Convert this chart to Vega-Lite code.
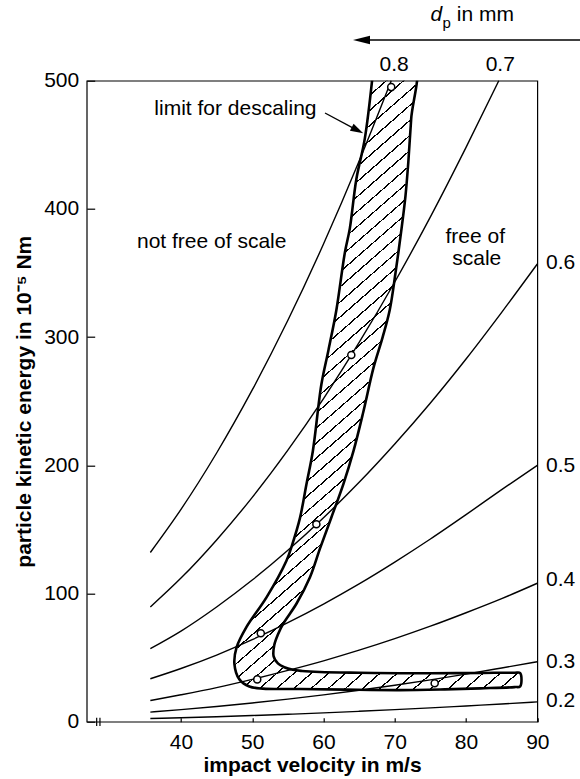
{
  "$schema": "https://vega.github.io/schema/vega-lite/v6.json",
  "width": 450.6,
  "height": 641,
  "autosize": {"type": "none"},
  "padding": {"left": 86.7, "top": 80.7, "right": 42.7, "bottom": 57.3},
  "config": {
    "view": {"stroke": "#000", "strokeWidth": 1.2},
    "font": "Liberation Sans",
    "text": {"font": "Liberation Sans", "fontSize": 21, "color": "#000"}
  },
  "datasets": {
    "curves": [
      {"d": "0.8", "v": 35.7, "E": 132}, {"d": "0.8", "v": 40, "E": 165.6}, {"d": "0.8", "v": 45, "E": 209.6}, {"d": "0.8", "v": 50, "E": 258.8}, {"d": "0.8", "v": 55, "E": 313.1}, {"d": "0.8", "v": 60, "E": 372.6}, {"d": "0.8", "v": 65, "E": 437.3}, {"d": "0.8", "v": 69.5, "E": 500},
      {"d": "0.7", "v": 35.7, "E": 89.5}, {"d": "0.7", "v": 40, "E": 112}, {"d": "0.7", "v": 45, "E": 141.8}, {"d": "0.7", "v": 50, "E": 175}, {"d": "0.7", "v": 55, "E": 211.8}, {"d": "0.7", "v": 60, "E": 252}, {"d": "0.7", "v": 65, "E": 295.8}, {"d": "0.7", "v": 70, "E": 343}, {"d": "0.7", "v": 75, "E": 393.8}, {"d": "0.7", "v": 80, "E": 448}, {"d": "0.7", "v": 84.6, "E": 500},
      {"d": "0.6", "v": 35.7, "E": 57}, {"d": "0.6", "v": 40, "E": 70.7}, {"d": "0.6", "v": 45, "E": 89.5}, {"d": "0.6", "v": 50, "E": 110.5}, {"d": "0.6", "v": 55, "E": 133.7}, {"d": "0.6", "v": 60, "E": 159.1}, {"d": "0.6", "v": 65, "E": 186.7}, {"d": "0.6", "v": 70, "E": 216.6}, {"d": "0.6", "v": 75, "E": 248.6}, {"d": "0.6", "v": 80, "E": 282.9}, {"d": "0.6", "v": 85, "E": 319.3}, {"d": "0.6", "v": 90, "E": 357},
      {"d": "0.5", "v": 35.7, "E": 33.5}, {"d": "0.5", "v": 40, "E": 41.5}, {"d": "0.5", "v": 45, "E": 52}, {"d": "0.5", "v": 50, "E": 64}, {"d": "0.5", "v": 55, "E": 77.3}, {"d": "0.5", "v": 60, "E": 91.8}, {"d": "0.5", "v": 65, "E": 107.5}, {"d": "0.5", "v": 70, "E": 124.5}, {"d": "0.5", "v": 75, "E": 142.5}, {"d": "0.5", "v": 80, "E": 161.5}, {"d": "0.5", "v": 85, "E": 181}, {"d": "0.5", "v": 90, "E": 200},
      {"d": "0.4", "v": 35.7, "E": 16.5}, {"d": "0.4", "v": 40, "E": 21}, {"d": "0.4", "v": 45, "E": 26.6}, {"d": "0.4", "v": 50, "E": 33}, {"d": "0.4", "v": 55, "E": 40}, {"d": "0.4", "v": 60, "E": 47.5}, {"d": "0.4", "v": 65, "E": 55.8}, {"d": "0.4", "v": 70, "E": 64.8}, {"d": "0.4", "v": 75, "E": 74.5}, {"d": "0.4", "v": 80, "E": 85}, {"d": "0.4", "v": 85, "E": 96}, {"d": "0.4", "v": 90, "E": 108},
      {"d": "0.3", "v": 35.7, "E": 7.5}, {"d": "0.3", "v": 40, "E": 9.4}, {"d": "0.3", "v": 45, "E": 11.9}, {"d": "0.3", "v": 50, "E": 14.6}, {"d": "0.3", "v": 55, "E": 17.6}, {"d": "0.3", "v": 60, "E": 20.9}, {"d": "0.3", "v": 65, "E": 24.5}, {"d": "0.3", "v": 70, "E": 28.4}, {"d": "0.3", "v": 75, "E": 32.6}, {"d": "0.3", "v": 80, "E": 37.1}, {"d": "0.3", "v": 85, "E": 41.9}, {"d": "0.3", "v": 90, "E": 46.8},
      {"d": "0.2", "v": 35.7, "E": 2.5}, {"d": "0.2", "v": 40, "E": 3.1}, {"d": "0.2", "v": 45, "E": 3.9}, {"d": "0.2", "v": 50, "E": 4.8}, {"d": "0.2", "v": 55, "E": 5.8}, {"d": "0.2", "v": 60, "E": 6.9}, {"d": "0.2", "v": 65, "E": 8.1}, {"d": "0.2", "v": 70, "E": 9.4}, {"d": "0.2", "v": 75, "E": 10.8}, {"d": "0.2", "v": 80, "E": 12.3}, {"d": "0.2", "v": 85, "E": 13.8}, {"d": "0.2", "v": 90, "E": 15.5}
    ],
    "band": [
      {"o": 1, "v": 67.1, "E": 515}, {"o": 2, "v": 65.8, "E": 455}, {"o": 3, "v": 64.6, "E": 423}, {"o": 4, "v": 63.7, "E": 385}, {"o": 5, "v": 63.0, "E": 366},
      {"o": 6, "v": 61.8, "E": 321}, {"o": 7, "v": 60.7, "E": 290}, {"o": 8, "v": 59.7, "E": 263}, {"o": 9, "v": 58.5, "E": 211}, {"o": 10, "v": 57.6, "E": 185},
      {"o": 11, "v": 56.7, "E": 159}, {"o": 12, "v": 55.6, "E": 138}, {"o": 13, "v": 54.8, "E": 125.6}, {"o": 14, "v": 52.0, "E": 97}, {"o": 15, "v": 49.2, "E": 74},
      {"o": 16, "v": 47.8, "E": 58}, {"o": 17, "v": 47.5, "E": 45}, {"o": 18, "v": 48.2, "E": 33}, {"o": 19, "v": 49.6, "E": 27.5}, {"o": 20, "v": 51.5, "E": 25.8},
      {"o": 21, "v": 56.7, "E": 25.5}, {"o": 22, "v": 63, "E": 25}, {"o": 23, "v": 70.7, "E": 24.6}, {"o": 24, "v": 77, "E": 25.2}, {"o": 25, "v": 82, "E": 26},
      {"o": 25.5, "v": 86.8, "E": 27.0}, {"o": 26, "v": 87.6, "E": 27.6}, {"o": 27, "v": 87.6, "E": 37.9}, {"o": 27.5, "v": 86.8, "E": 38.2}, {"o": 28, "v": 82, "E": 38}, {"o": 29, "v": 75, "E": 37.8}, {"o": 30, "v": 70.7, "E": 37.8},
      {"o": 31, "v": 65, "E": 38.2}, {"o": 32, "v": 59.5, "E": 38.8}, {"o": 33, "v": 57, "E": 39.6}, {"o": 34, "v": 55.7, "E": 40.5}, {"o": 35, "v": 54.5, "E": 42.5},
      {"o": 36, "v": 53.6, "E": 45.5}, {"o": 37, "v": 53.0, "E": 51}, {"o": 38, "v": 53.1, "E": 60}, {"o": 39, "v": 53.6, "E": 68}, {"o": 40, "v": 54.35, "E": 76.5},
      {"o": 41, "v": 56.2, "E": 92}, {"o": 42, "v": 58.1, "E": 112.7}, {"o": 43, "v": 59.5, "E": 135}, {"o": 44, "v": 61.1, "E": 159.3}, {"o": 45, "v": 62.8, "E": 185.5},
      {"o": 46, "v": 64.2, "E": 211}, {"o": 47, "v": 65.6, "E": 242}, {"o": 48, "v": 67.0, "E": 275.8}, {"o": 49, "v": 68.3, "E": 300}, {"o": 50, "v": 69.3, "E": 321.4},
      {"o": 51, "v": 70.1, "E": 350}, {"o": 52, "v": 70.95, "E": 384.6}, {"o": 53, "v": 71.5, "E": 410}, {"o": 54, "v": 71.9, "E": 436.4}, {"o": 55, "v": 72.3, "E": 470},
      {"o": 56, "v": 72.75, "E": 515}, {"o": 57, "v": 67.1, "E": 515}
    ],
    "pts": [
      {"v": 69.5, "E": 495}, {"v": 63.9, "E": 286}, {"v": 59.0, "E": 154}, {"v": 51.2, "E": 69}, {"v": 50.7, "E": 33}, {"v": 75.6, "E": 30}
    ],
    "brk": [
      {"v": 28.17, "E": -3.3, "E2": 3.1}, {"v": 28.63, "E": -3.3, "E2": 3.1}
    ],
    "notes": [
      {"t": "limit for descaling", "v": 47.64, "E": 477.9},
      {"t": "not free of scale", "v": 44.31, "E": 374.4},
      {"t": "free of", "v": 81.3, "E": 377.9},
      {"t": "scale", "v": 81.5, "E": 361},
      {"t": "0.8", "v": 69.9, "E": 512.2},
      {"t": "0.7", "v": 84.8, "E": 512.2}
    ],
    "rlab": [
      {"t": "0.6", "v": 91.22, "E": 357.8},
      {"t": "0.5", "v": 91.22, "E": 199.5},
      {"t": "0.4", "v": 91.22, "E": 110.7},
      {"t": "0.3", "v": 91.22, "E": 46.8},
      {"t": "0.2", "v": 91.22, "E": 16.5},
      {"t": "in mm", "v": 78.7, "E": 551.3}
    ],
    "shafts": [
      {"v": 60.21, "E": 474.8, "v2": 64.77, "E2": 461.3},
      {"v": 65.33, "E": 531.8, "v2": 96.0, "E2": 531.8}
    ]
  },
  "encoding": {
    "x": {
      "field": "v", "type": "quantitative",
      "scale": {"domain": [26.77, 90], "nice": false, "zero": false},
      "axis": {
        "title": "impact velocity in m/s", "values": [40, 50, 60, 70, 80, 90],
        "domain": false, "grid": false, "tickSize": -4, "tickWidth": 1.2, "tickColor": "#000",
        "labelPadding": 14, "labelFontSize": 21, "labelColor": "#000", "labelFont": "Liberation Sans",
        "labelFlush": false, "labelOverlap": false, "labelBound": false,
        "titleFontSize": 21, "titleFontWeight": "bold", "titleColor": "#000", "titleFont": "Liberation Sans",
        "titleY": 44, "titleBaseline": "middle"
      }
    },
    "y": {
      "field": "E", "type": "quantitative",
      "scale": {"domain": [0, 500], "nice": false, "zero": false},
      "axis": {
        "title": "particle kinetic energy in 10⁻⁵ Nm", "values": [0, 100, 200, 300, 400, 500],
        "domain": false, "grid": false, "tickSize": -8, "tickWidth": 1.2, "tickColor": "#000",
        "labelPadding": 16, "labelFontSize": 21, "labelColor": "#000", "labelFont": "Liberation Sans",
        "labelFlush": false, "labelOverlap": false, "labelBound": false,
        "titleFontSize": 21, "titleFontWeight": "bold", "titleColor": "#000", "titleFont": "Liberation Sans",
        "titleX": -62, "titleBaseline": "middle"
      }
    }
  },
  "layer": [
    {
      "data": {"name": "curves"},
      "mark": {"type": "line", "color": "#000", "strokeWidth": 1.4, "interpolate": "monotone"},
      "encoding": {"detail": {"field": "d"}}
    },
    {
      "data": {"name": "band"},
      "mark": {
        "type": "line", "clip": true, "stroke": "#000", "strokeWidth": 2.6, "interpolate": "catmull-rom", "strokeJoin": "round",
        "fill": {
          "gradient": "linear", "x1": 0, "y1": 0, "x2": 0.4805, "y2": 1.207,
          "stops": [
            {"offset": 0.0050, "color": "rgba(0,0,0,0)"}, {"offset": 0.0050, "color": "#000"}, {"offset": 0.0069, "color": "#000"}, {"offset": 0.0069, "color": "rgba(0,0,0,0)"},
            {"offset": 0.0220, "color": "rgba(0,0,0,0)"}, {"offset": 0.0220, "color": "#000"}, {"offset": 0.0239, "color": "#000"}, {"offset": 0.0239, "color": "rgba(0,0,0,0)"},
            {"offset": 0.0391, "color": "rgba(0,0,0,0)"}, {"offset": 0.0391, "color": "#000"}, {"offset": 0.0410, "color": "#000"}, {"offset": 0.0410, "color": "rgba(0,0,0,0)"},
            {"offset": 0.0561, "color": "rgba(0,0,0,0)"}, {"offset": 0.0561, "color": "#000"}, {"offset": 0.0580, "color": "#000"}, {"offset": 0.0580, "color": "rgba(0,0,0,0)"},
            {"offset": 0.0731, "color": "rgba(0,0,0,0)"}, {"offset": 0.0731, "color": "#000"}, {"offset": 0.0750, "color": "#000"}, {"offset": 0.0750, "color": "rgba(0,0,0,0)"},
            {"offset": 0.0902, "color": "rgba(0,0,0,0)"}, {"offset": 0.0902, "color": "#000"}, {"offset": 0.0921, "color": "#000"}, {"offset": 0.0921, "color": "rgba(0,0,0,0)"},
            {"offset": 0.1072, "color": "rgba(0,0,0,0)"}, {"offset": 0.1072, "color": "#000"}, {"offset": 0.1091, "color": "#000"}, {"offset": 0.1091, "color": "rgba(0,0,0,0)"},
            {"offset": 0.1242, "color": "rgba(0,0,0,0)"}, {"offset": 0.1242, "color": "#000"}, {"offset": 0.1261, "color": "#000"}, {"offset": 0.1261, "color": "rgba(0,0,0,0)"},
            {"offset": 0.1412, "color": "rgba(0,0,0,0)"}, {"offset": 0.1412, "color": "#000"}, {"offset": 0.1431, "color": "#000"}, {"offset": 0.1431, "color": "rgba(0,0,0,0)"},
            {"offset": 0.1583, "color": "rgba(0,0,0,0)"}, {"offset": 0.1583, "color": "#000"}, {"offset": 0.1602, "color": "#000"}, {"offset": 0.1602, "color": "rgba(0,0,0,0)"},
            {"offset": 0.1753, "color": "rgba(0,0,0,0)"}, {"offset": 0.1753, "color": "#000"}, {"offset": 0.1772, "color": "#000"}, {"offset": 0.1772, "color": "rgba(0,0,0,0)"},
            {"offset": 0.1923, "color": "rgba(0,0,0,0)"}, {"offset": 0.1923, "color": "#000"}, {"offset": 0.1942, "color": "#000"}, {"offset": 0.1942, "color": "rgba(0,0,0,0)"},
            {"offset": 0.2094, "color": "rgba(0,0,0,0)"}, {"offset": 0.2094, "color": "#000"}, {"offset": 0.2113, "color": "#000"}, {"offset": 0.2113, "color": "rgba(0,0,0,0)"},
            {"offset": 0.2264, "color": "rgba(0,0,0,0)"}, {"offset": 0.2264, "color": "#000"}, {"offset": 0.2283, "color": "#000"}, {"offset": 0.2283, "color": "rgba(0,0,0,0)"},
            {"offset": 0.2434, "color": "rgba(0,0,0,0)"}, {"offset": 0.2434, "color": "#000"}, {"offset": 0.2453, "color": "#000"}, {"offset": 0.2453, "color": "rgba(0,0,0,0)"},
            {"offset": 0.2605, "color": "rgba(0,0,0,0)"}, {"offset": 0.2605, "color": "#000"}, {"offset": 0.2624, "color": "#000"}, {"offset": 0.2624, "color": "rgba(0,0,0,0)"},
            {"offset": 0.2775, "color": "rgba(0,0,0,0)"}, {"offset": 0.2775, "color": "#000"}, {"offset": 0.2794, "color": "#000"}, {"offset": 0.2794, "color": "rgba(0,0,0,0)"},
            {"offset": 0.2945, "color": "rgba(0,0,0,0)"}, {"offset": 0.2945, "color": "#000"}, {"offset": 0.2964, "color": "#000"}, {"offset": 0.2964, "color": "rgba(0,0,0,0)"},
            {"offset": 0.3115, "color": "rgba(0,0,0,0)"}, {"offset": 0.3115, "color": "#000"}, {"offset": 0.3134, "color": "#000"}, {"offset": 0.3134, "color": "rgba(0,0,0,0)"},
            {"offset": 0.3286, "color": "rgba(0,0,0,0)"}, {"offset": 0.3286, "color": "#000"}, {"offset": 0.3305, "color": "#000"}, {"offset": 0.3305, "color": "rgba(0,0,0,0)"},
            {"offset": 0.3456, "color": "rgba(0,0,0,0)"}, {"offset": 0.3456, "color": "#000"}, {"offset": 0.3475, "color": "#000"}, {"offset": 0.3475, "color": "rgba(0,0,0,0)"},
            {"offset": 0.3626, "color": "rgba(0,0,0,0)"}, {"offset": 0.3626, "color": "#000"}, {"offset": 0.3645, "color": "#000"}, {"offset": 0.3645, "color": "rgba(0,0,0,0)"},
            {"offset": 0.3797, "color": "rgba(0,0,0,0)"}, {"offset": 0.3797, "color": "#000"}, {"offset": 0.3816, "color": "#000"}, {"offset": 0.3816, "color": "rgba(0,0,0,0)"},
            {"offset": 0.3967, "color": "rgba(0,0,0,0)"}, {"offset": 0.3967, "color": "#000"}, {"offset": 0.3986, "color": "#000"}, {"offset": 0.3986, "color": "rgba(0,0,0,0)"},
            {"offset": 0.4137, "color": "rgba(0,0,0,0)"}, {"offset": 0.4137, "color": "#000"}, {"offset": 0.4156, "color": "#000"}, {"offset": 0.4156, "color": "rgba(0,0,0,0)"},
            {"offset": 0.4308, "color": "rgba(0,0,0,0)"}, {"offset": 0.4308, "color": "#000"}, {"offset": 0.4327, "color": "#000"}, {"offset": 0.4327, "color": "rgba(0,0,0,0)"},
            {"offset": 0.4478, "color": "rgba(0,0,0,0)"}, {"offset": 0.4478, "color": "#000"}, {"offset": 0.4497, "color": "#000"}, {"offset": 0.4497, "color": "rgba(0,0,0,0)"},
            {"offset": 0.4648, "color": "rgba(0,0,0,0)"}, {"offset": 0.4648, "color": "#000"}, {"offset": 0.4667, "color": "#000"}, {"offset": 0.4667, "color": "rgba(0,0,0,0)"},
            {"offset": 0.4818, "color": "rgba(0,0,0,0)"}, {"offset": 0.4818, "color": "#000"}, {"offset": 0.4837, "color": "#000"}, {"offset": 0.4837, "color": "rgba(0,0,0,0)"},
            {"offset": 0.4989, "color": "rgba(0,0,0,0)"}, {"offset": 0.4989, "color": "#000"}, {"offset": 0.5008, "color": "#000"}, {"offset": 0.5008, "color": "rgba(0,0,0,0)"},
            {"offset": 0.5159, "color": "rgba(0,0,0,0)"}, {"offset": 0.5159, "color": "#000"}, {"offset": 0.5178, "color": "#000"}, {"offset": 0.5178, "color": "rgba(0,0,0,0)"},
            {"offset": 0.5329, "color": "rgba(0,0,0,0)"}, {"offset": 0.5329, "color": "#000"}, {"offset": 0.5348, "color": "#000"}, {"offset": 0.5348, "color": "rgba(0,0,0,0)"},
            {"offset": 0.5500, "color": "rgba(0,0,0,0)"}, {"offset": 0.5500, "color": "#000"}, {"offset": 0.5519, "color": "#000"}, {"offset": 0.5519, "color": "rgba(0,0,0,0)"},
            {"offset": 0.5670, "color": "rgba(0,0,0,0)"}, {"offset": 0.5670, "color": "#000"}, {"offset": 0.5689, "color": "#000"}, {"offset": 0.5689, "color": "rgba(0,0,0,0)"},
            {"offset": 0.5840, "color": "rgba(0,0,0,0)"}, {"offset": 0.5840, "color": "#000"}, {"offset": 0.5859, "color": "#000"}, {"offset": 0.5859, "color": "rgba(0,0,0,0)"},
            {"offset": 0.6011, "color": "rgba(0,0,0,0)"}, {"offset": 0.6011, "color": "#000"}, {"offset": 0.6030, "color": "#000"}, {"offset": 0.6030, "color": "rgba(0,0,0,0)"},
            {"offset": 0.6181, "color": "rgba(0,0,0,0)"}, {"offset": 0.6181, "color": "#000"}, {"offset": 0.6200, "color": "#000"}, {"offset": 0.6200, "color": "rgba(0,0,0,0)"},
            {"offset": 0.6351, "color": "rgba(0,0,0,0)"}, {"offset": 0.6351, "color": "#000"}, {"offset": 0.6370, "color": "#000"}, {"offset": 0.6370, "color": "rgba(0,0,0,0)"},
            {"offset": 0.6521, "color": "rgba(0,0,0,0)"}, {"offset": 0.6521, "color": "#000"}, {"offset": 0.6540, "color": "#000"}, {"offset": 0.6540, "color": "rgba(0,0,0,0)"},
            {"offset": 0.6692, "color": "rgba(0,0,0,0)"}, {"offset": 0.6692, "color": "#000"}, {"offset": 0.6711, "color": "#000"}, {"offset": 0.6711, "color": "rgba(0,0,0,0)"},
            {"offset": 0.6862, "color": "rgba(0,0,0,0)"}, {"offset": 0.6862, "color": "#000"}, {"offset": 0.6881, "color": "#000"}, {"offset": 0.6881, "color": "rgba(0,0,0,0)"},
            {"offset": 0.7032, "color": "rgba(0,0,0,0)"}, {"offset": 0.7032, "color": "#000"}, {"offset": 0.7051, "color": "#000"}, {"offset": 0.7051, "color": "rgba(0,0,0,0)"},
            {"offset": 0.7203, "color": "rgba(0,0,0,0)"}, {"offset": 0.7203, "color": "#000"}, {"offset": 0.7222, "color": "#000"}, {"offset": 0.7222, "color": "rgba(0,0,0,0)"},
            {"offset": 0.7373, "color": "rgba(0,0,0,0)"}, {"offset": 0.7373, "color": "#000"}, {"offset": 0.7392, "color": "#000"}, {"offset": 0.7392, "color": "rgba(0,0,0,0)"},
            {"offset": 0.7543, "color": "rgba(0,0,0,0)"}, {"offset": 0.7543, "color": "#000"}, {"offset": 0.7562, "color": "#000"}, {"offset": 0.7562, "color": "rgba(0,0,0,0)"},
            {"offset": 0.7714, "color": "rgba(0,0,0,0)"}, {"offset": 0.7714, "color": "#000"}, {"offset": 0.7733, "color": "#000"}, {"offset": 0.7733, "color": "rgba(0,0,0,0)"},
            {"offset": 0.7884, "color": "rgba(0,0,0,0)"}, {"offset": 0.7884, "color": "#000"}, {"offset": 0.7903, "color": "#000"}, {"offset": 0.7903, "color": "rgba(0,0,0,0)"},
            {"offset": 0.8054, "color": "rgba(0,0,0,0)"}, {"offset": 0.8054, "color": "#000"}, {"offset": 0.8073, "color": "#000"}, {"offset": 0.8073, "color": "rgba(0,0,0,0)"},
            {"offset": 0.8224, "color": "rgba(0,0,0,0)"}, {"offset": 0.8224, "color": "#000"}, {"offset": 0.8243, "color": "#000"}, {"offset": 0.8243, "color": "rgba(0,0,0,0)"},
            {"offset": 0.8395, "color": "rgba(0,0,0,0)"}, {"offset": 0.8395, "color": "#000"}, {"offset": 0.8414, "color": "#000"}, {"offset": 0.8414, "color": "rgba(0,0,0,0)"},
            {"offset": 0.8565, "color": "rgba(0,0,0,0)"}, {"offset": 0.8565, "color": "#000"}, {"offset": 0.8584, "color": "#000"}, {"offset": 0.8584, "color": "rgba(0,0,0,0)"},
            {"offset": 0.8735, "color": "rgba(0,0,0,0)"}, {"offset": 0.8735, "color": "#000"}, {"offset": 0.8754, "color": "#000"}, {"offset": 0.8754, "color": "rgba(0,0,0,0)"},
            {"offset": 0.8906, "color": "rgba(0,0,0,0)"}, {"offset": 0.8906, "color": "#000"}, {"offset": 0.8925, "color": "#000"}, {"offset": 0.8925, "color": "rgba(0,0,0,0)"},
            {"offset": 0.9076, "color": "rgba(0,0,0,0)"}, {"offset": 0.9076, "color": "#000"}, {"offset": 0.9095, "color": "#000"}, {"offset": 0.9095, "color": "rgba(0,0,0,0)"},
            {"offset": 0.9246, "color": "rgba(0,0,0,0)"}, {"offset": 0.9246, "color": "#000"}, {"offset": 0.9265, "color": "#000"}, {"offset": 0.9265, "color": "rgba(0,0,0,0)"},
            {"offset": 0.9417, "color": "rgba(0,0,0,0)"}, {"offset": 0.9417, "color": "#000"}, {"offset": 0.9436, "color": "#000"}, {"offset": 0.9436, "color": "rgba(0,0,0,0)"},
            {"offset": 0.9587, "color": "rgba(0,0,0,0)"}, {"offset": 0.9587, "color": "#000"}, {"offset": 0.9606, "color": "#000"}, {"offset": 0.9606, "color": "rgba(0,0,0,0)"},
            {"offset": 0.9757, "color": "rgba(0,0,0,0)"}, {"offset": 0.9757, "color": "#000"}, {"offset": 0.9776, "color": "#000"}, {"offset": 0.9776, "color": "rgba(0,0,0,0)"},
            {"offset": 0.9927, "color": "rgba(0,0,0,0)"}, {"offset": 0.9927, "color": "#000"}, {"offset": 0.9946, "color": "#000"}, {"offset": 0.9946, "color": "rgba(0,0,0,0)"}
          ]
        }
      },
      "encoding": {"order": {"field": "o", "type": "quantitative"}}
    },
    {
      "data": {"name": "pts"},
      "mark": {"type": "point", "shape": "circle", "filled": true, "fill": "#fff", "stroke": "#000", "strokeWidth": 1.5, "size": 50, "opacity": 1}
    },
    {
      "data": {"name": "brk"},
      "mark": {"type": "rule", "color": "#000", "strokeWidth": 1.2},
      "encoding": {"y2": {"field": "E2"}}
    },
    {
      "data": {"name": "shafts"},
      "mark": {"type": "rule", "color": "#000", "strokeWidth": 1.4},
      "encoding": {"x2": {"field": "v2"}, "y2": {"field": "E2"}}
    },
    {
      "data": {"values": [{"v": 64.77, "E": 461.3}]},
      "mark": {"type": "point", "shape": "M1,0L-1,-0.6L-1,0.6Z", "filled": true, "color": "#000", "size": 169, "angle": 28, "opacity": 1, "strokeWidth": 0}
    },
    {
      "data": {"values": [{"v": 65.33, "E": 531.8}]},
      "mark": {"type": "point", "shape": "M-1,0L1,-0.5L1,0.5Z", "filled": true, "color": "#000", "size": 289, "opacity": 1, "strokeWidth": 0}
    },
    {
      "data": {"name": "notes"},
      "mark": {"type": "text", "align": "center", "baseline": "middle", "fontSize": 21, "color": "#000"},
      "encoding": {"text": {"field": "t"}}
    },
    {
      "data": {"name": "rlab"},
      "mark": {"type": "text", "align": "left", "baseline": "middle", "fontSize": 21, "color": "#000"},
      "encoding": {"text": {"field": "t"}}
    },
    {
      "data": {"values": [{"t": "d", "v": 75.0, "E": 551.3}]},
      "mark": {"type": "text", "align": "left", "baseline": "middle", "fontSize": 21, "fontStyle": "italic", "color": "#000"},
      "encoding": {"text": {"field": "t"}}
    },
    {
      "data": {"values": [{"t": "p", "v": 76.7, "E": 545}]},
      "mark": {"type": "text", "align": "left", "baseline": "middle", "fontSize": 15, "color": "#000"},
      "encoding": {"text": {"field": "t"}}
    }
  ]
}
